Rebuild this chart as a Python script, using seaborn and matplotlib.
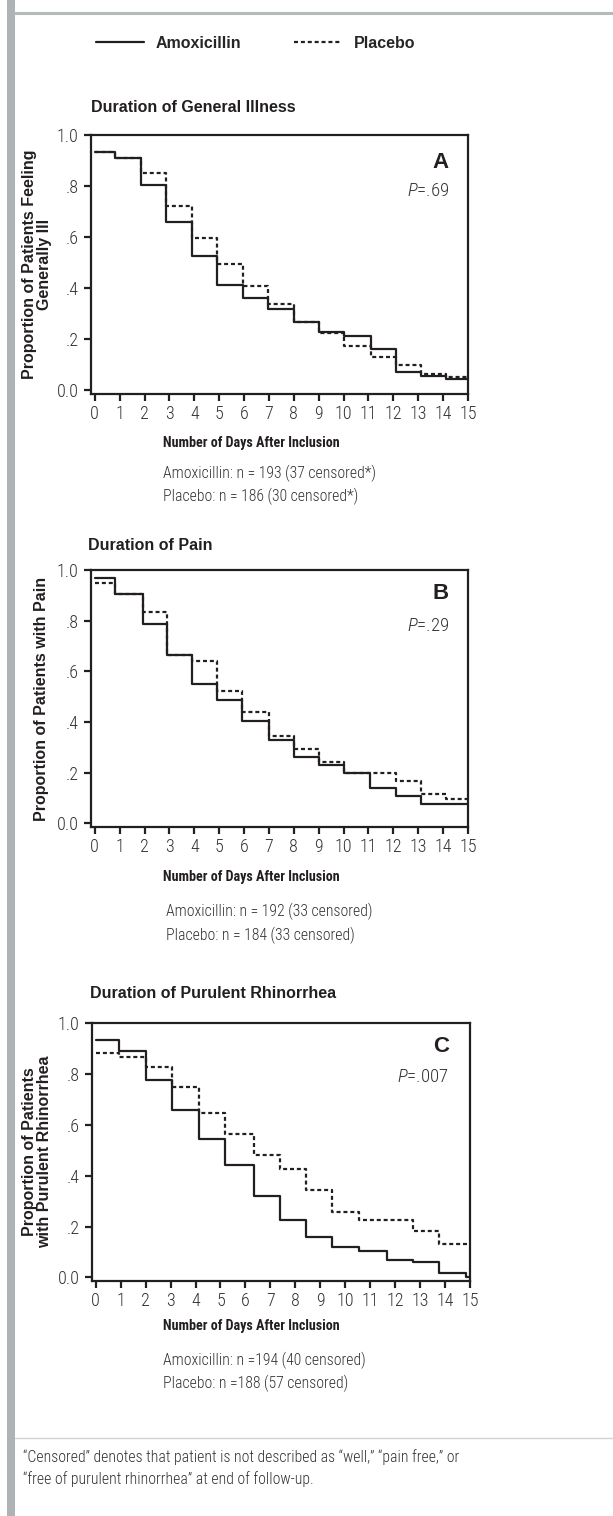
import numpy as np
import pandas as pd
import matplotlib
matplotlib.use('Agg')
import matplotlib.pyplot as plt
import seaborn as sns
from matplotlib.patches import Rectangle
from matplotlib.lines import Line2D

# step start days and proportions
days_a = [0, 0.8, 1.85, 2.85, 3.9, 4.9, 5.95, 6.95, 8.0, 9.0, 10.0, 11.1, 12.1, 13.1, 14.1, 15]
amox_a = [0.935, 0.909, 0.805, 0.66, 0.526, 0.413, 0.361, 0.318, 0.266, 0.23, 0.214, 0.162, 0.072, 0.058, 0.046, 0.046]
plac_a = [0.935, 0.909, 0.851, 0.721, 0.598, 0.494, 0.409, 0.338, 0.266, 0.225, 0.175, 0.13, 0.10, 0.065, 0.052, 0.052]

days_b = [0, 0.83, 1.93, 2.9, 3.9, 4.93, 5.93, 7.0, 8.0, 9.0, 10.0, 11.05, 12.1, 13.1, 14.1, 15]
amox_b = [0.97, 0.905, 0.787, 0.664, 0.549, 0.487, 0.403, 0.329, 0.263, 0.23, 0.2, 0.138, 0.108, 0.076, 0.076, 0.076]
plac_b = [0.947, 0.905, 0.833, 0.664, 0.642, 0.524, 0.438, 0.346, 0.292, 0.243, 0.2, 0.2, 0.167, 0.116, 0.095, 0.095]

days_c = [0, 0.93, 2.0, 3.07, 4.13, 5.2, 6.33, 7.37, 8.44, 9.47, 10.57, 11.67, 12.7, 13.77, 14.84, 15]
amox_c = [0.934, 0.89, 0.776, 0.66, 0.546, 0.44, 0.322, 0.226, 0.16, 0.118, 0.103, 0.07, 0.06, 0.016, 0.0, 0.0]
plac_c = [0.881, 0.868, 0.826, 0.75, 0.647, 0.563, 0.48, 0.428, 0.342, 0.256, 0.224, 0.224, 0.184, 0.132, 0.132, 0.132]

titles = ['Duration of General Illness', 'Duration of Pain', 'Duration of Purulent Rhinorrhea']
ylabels = ['Proportion of Patients Feeling\nGenerally Ill',
           'Proportion of Patients with Pain',
           'Proportion of Patients\nwith Purulent Rhinorrhea']
letters = ['A', 'B', 'C']
pvalues = ['.69', '.29', '.007']
n_amox = ['Amoxicillin: n = 193 (37 censored*)', 'Amoxicillin: n = 192 (33 censored)', 'Amoxicillin: n =194 (40 censored)']
n_plac = ['Placebo: n = 186 (30 censored*)', 'Placebo: n = 184 (33 censored)', 'Placebo: n =188 (57 censored)']
xticks = list(range(16))
yticks = [0, 0.2, 0.4, 0.6, 0.8, 1.0]
ytick_labels = ['0.0', '.2', '.4', '.6', '.8', '1.0']
footnote = ('\u201cCensored\u201d denotes that patient is not described as \u201cwell,\u201d \u201cpain free,\u201d or\n'
            '\u201cfree of purulent rhinorrhea\u201d at end of follow-up.')

sns.set_style('ticks')
COND = ['Roboto Condensed', 'DejaVu Sans']
BOLD = ['Liberation Sans', 'DejaVu Sans']
plt.rcParams['font.family'] = COND
plt.rcParams['font.weight'] = 'light'
plt.rcParams['mathtext.fontset'] = 'custom'
plt.rcParams['mathtext.it'] = 'Roboto Condensed:italic:light'
plt.rcParams['mathtext.rm'] = 'Roboto Condensed:light'
ink = '#231f20'
grey_ink = '#333333'

W, H = 613, 1516
fig = plt.figure(figsize=(W / 100, H / 100), dpi=100)


def fx(px):
    return px / W


def fy(py):
    return 1 - py / H


# page decorations
fig.add_artist(Rectangle((fx(7), 0), fx(8), 1, transform=fig.transFigure, color='#aeb3b5', lw=0))
fig.add_artist(Line2D([fx(15), 1], [fy(13), fy(13)], transform=fig.transFigure, color='#b4b9bb', lw=2.2))
fig.add_artist(Line2D([fx(15), 1], [fy(1438), fy(1438)], transform=fig.transFigure, color='#cfd3d4', lw=1.0))

rects = [(91, 135, 468, 394), (91, 570, 468, 827), (92, 1023, 470, 1281)]
below = [(443, 473, 496), (877, 911, 935), (1326, 1360, 1383)]
n_x = [163, 166, 163]
title_x = [91, 88, 90]
title_y = [108, 546, 993]
letter_y = [162, 593, 1047]
p_y = [191, 626, 1077]
all_days = [days_a, days_b, days_c]
all_amox = [amox_a, amox_b, amox_c]
all_plac = [plac_a, plac_b, plac_c]

handles = None
for i in range(3):
    l, t, r, b = rects[i]
    ax = fig.add_axes([fx(l), fy(b), fx(r) - fx(l), (b - t) / H])
    df = pd.DataFrame({'day': all_days[i], 'Amoxicillin': all_amox[i], 'Placebo': all_plac[i]})
    sns.lineplot(data=df, x='day', y='Amoxicillin', ax=ax, drawstyle='steps-post', color=ink,
                 lw=1.6, label='Amoxicillin', legend=False)
    sns.lineplot(data=df, x='day', y='Placebo', ax=ax, drawstyle='steps-post', color=ink,
                 lw=1.6, linestyle=(0, (1.8, 1.3)), label='Placebo', legend=False)
    if handles is None:
        handles = ax.get_lines()[:2]
    ax.set_xlim(-0.15, 15)
    ax.set_ylim(-0.014, 1.0)
    ax.set_xticks(xticks)
    ax.set_xticklabels([str(v) for v in xticks])
    ax.set_yticks(yticks)
    ax.set_yticklabels(ytick_labels)
    ax.set_xlabel('')
    ax.set_ylabel('')
    for s in ax.spines.values():
        s.set_visible(True)
        s.set_linewidth(1.6)
        s.set_color(ink)
    ax.tick_params(axis='both', direction='out', length=5, width=1.6, color=ink,
                   labelsize=13, labelcolor=grey_ink)
    ax.tick_params(axis='x', pad=3)
    ax.tick_params(axis='y', pad=4)

    fig.text(fx(title_x[i]), fy(title_y[i]), titles[i], family=BOLD, weight='bold', size=11.5,
             color=ink, ha='left', va='center')
    fig.text(fx(449), fy(letter_y[i]), letters[i], family=BOLD, weight='bold', size=16,
             color=ink, ha='right', va='center')
    fig.text(fx(449), fy(p_y[i]), '$\\mathit{P}$=' + pvalues[i], size=13.5,
             color=grey_ink, ha='right', va='center')
    yl_x = 42 if i == 1 else 37
    fig.text(fx(yl_x), fy((t + b) / 2), ylabels[i], family=BOLD, weight='bold', size=11.5,
             color=ink, rotation=90, ha='center', va='center', linespacing=1.0, multialignment='center')
    fig.text(fx(251), fy(below[i][0]), 'Number of Days After Inclusion', family=COND,
             weight='bold', size=10.2, color=ink, ha='center', va='center')
    fig.text(fx(n_x[i]), fy(below[i][1]), n_amox[i], size=11.3, color=grey_ink, ha='left', va='center')
    fig.text(fx(n_x[i]), fy(below[i][2]), n_plac[i], size=11.3, color=grey_ink, ha='left', va='center')

fig.legend(handles, ['Amoxicillin', 'Placebo'], loc='center left', bbox_to_anchor=(fx(96), fy(43)),
           ncol=2, frameon=False, handlelength=3.0, handletextpad=0.75, columnspacing=3.3,
           borderpad=0, borderaxespad=0, prop={'family': BOLD, 'weight': 'bold', 'size': 11.5})

fig.text(fx(23), fy(1468), footnote, size=11.3, color=grey_ink, ha='left', va='center', linespacing=1.5)

fig.savefig('out.png', dpi=100)
